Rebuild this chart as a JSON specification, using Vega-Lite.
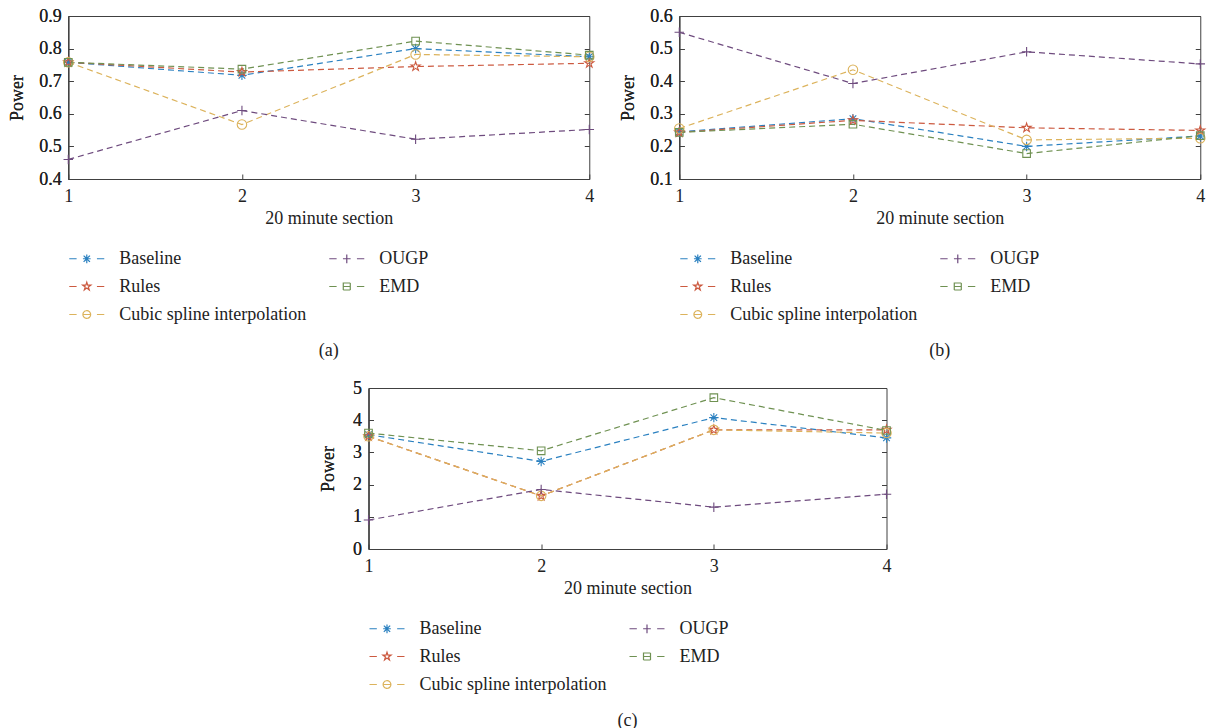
{
  "$schema": "https://vega.github.io/schema/vega-lite/v6.json",
  "padding": {"left": 8, "top": 6, "right": 2, "bottom": 2},
  "config": {
    "font": "Liberation Serif",
    "view": {"stroke": "#404040", "strokeWidth": 1},
    "axis": {
      "labelFont": "Liberation Serif", "labelFontSize": 18, "labelColor": "#222222",
      "titleFont": "Liberation Serif", "titleFontSize": 18, "titleFontWeight": "normal", "titleColor": "#222222",
      "domainColor": "#404040", "tickColor": "#404040", "grid": false, "tickSize": -5
    },
    "legend": {
      "labelFont": "Liberation Serif", "labelFontSize": 18, "labelColor": "#222222", "labelLimit": 400
    },
    "title": {"font": "Liberation Serif", "fontSize": 18, "fontWeight": "normal", "color": "#222222"}
  },
  "data": {"values": [
    {"p": "a", "s": 1, "m": "Baseline", "v": 0.758}, {"p": "a", "s": 2, "m": "Baseline", "v": 0.718}, {"p": "a", "s": 3, "m": "Baseline", "v": 0.800}, {"p": "a", "s": 4, "m": "Baseline", "v": 0.775},
    {"p": "a", "s": 1, "m": "Rules", "v": 0.758}, {"p": "a", "s": 2, "m": "Rules", "v": 0.728}, {"p": "a", "s": 3, "m": "Rules", "v": 0.745}, {"p": "a", "s": 4, "m": "Rules", "v": 0.755},
    {"p": "a", "s": 1, "m": "Cubic spline interpolation", "v": 0.758}, {"p": "a", "s": 2, "m": "Cubic spline interpolation", "v": 0.567}, {"p": "a", "s": 3, "m": "Cubic spline interpolation", "v": 0.782}, {"p": "a", "s": 4, "m": "Cubic spline interpolation", "v": 0.775},
    {"p": "a", "s": 1, "m": "OUGP", "v": 0.460}, {"p": "a", "s": 2, "m": "OUGP", "v": 0.610}, {"p": "a", "s": 3, "m": "OUGP", "v": 0.522}, {"p": "a", "s": 4, "m": "OUGP", "v": 0.552},
    {"p": "a", "s": 1, "m": "EMD", "v": 0.758}, {"p": "a", "s": 2, "m": "EMD", "v": 0.737}, {"p": "a", "s": 3, "m": "EMD", "v": 0.823}, {"p": "a", "s": 4, "m": "EMD", "v": 0.780},
    {"p": "b", "s": 1, "m": "Baseline", "v": 0.245}, {"p": "b", "s": 2, "m": "Baseline", "v": 0.285}, {"p": "b", "s": 3, "m": "Baseline", "v": 0.200}, {"p": "b", "s": 4, "m": "Baseline", "v": 0.232},
    {"p": "b", "s": 1, "m": "Rules", "v": 0.243}, {"p": "b", "s": 2, "m": "Rules", "v": 0.280}, {"p": "b", "s": 3, "m": "Rules", "v": 0.257}, {"p": "b", "s": 4, "m": "Rules", "v": 0.249},
    {"p": "b", "s": 1, "m": "Cubic spline interpolation", "v": 0.255}, {"p": "b", "s": 2, "m": "Cubic spline interpolation", "v": 0.435}, {"p": "b", "s": 3, "m": "Cubic spline interpolation", "v": 0.220}, {"p": "b", "s": 4, "m": "Cubic spline interpolation", "v": 0.225},
    {"p": "b", "s": 1, "m": "OUGP", "v": 0.550}, {"p": "b", "s": 2, "m": "OUGP", "v": 0.393}, {"p": "b", "s": 3, "m": "OUGP", "v": 0.490}, {"p": "b", "s": 4, "m": "OUGP", "v": 0.453},
    {"p": "b", "s": 1, "m": "EMD", "v": 0.243}, {"p": "b", "s": 2, "m": "EMD", "v": 0.268}, {"p": "b", "s": 3, "m": "EMD", "v": 0.178}, {"p": "b", "s": 4, "m": "EMD", "v": 0.233},
    {"p": "c", "s": 1, "m": "Baseline", "v": 3.55}, {"p": "c", "s": 2, "m": "Baseline", "v": 2.72}, {"p": "c", "s": 3, "m": "Baseline", "v": 4.08}, {"p": "c", "s": 4, "m": "Baseline", "v": 3.45},
    {"p": "c", "s": 1, "m": "Rules", "v": 3.50}, {"p": "c", "s": 2, "m": "Rules", "v": 1.65}, {"p": "c", "s": 3, "m": "Rules", "v": 3.70}, {"p": "c", "s": 4, "m": "Rules", "v": 3.70},
    {"p": "c", "s": 1, "m": "Cubic spline interpolation", "v": 3.50}, {"p": "c", "s": 2, "m": "Cubic spline interpolation", "v": 1.65}, {"p": "c", "s": 3, "m": "Cubic spline interpolation", "v": 3.70}, {"p": "c", "s": 4, "m": "Cubic spline interpolation", "v": 3.60},
    {"p": "c", "s": 1, "m": "OUGP", "v": 0.90}, {"p": "c", "s": 2, "m": "OUGP", "v": 1.85}, {"p": "c", "s": 3, "m": "OUGP", "v": 1.30}, {"p": "c", "s": 4, "m": "OUGP", "v": 1.70},
    {"p": "c", "s": 1, "m": "EMD", "v": 3.60}, {"p": "c", "s": 2, "m": "EMD", "v": 3.05}, {"p": "c", "s": 3, "m": "EMD", "v": 4.70}, {"p": "c", "s": 4, "m": "EMD", "v": 3.68}
  ]},
  "resolve": {"scale": {"y": "independent", "color": "independent", "shape": "independent"}, "legend": {"color": "independent", "shape": "independent"}},
  "spacing": 17,
  "center": true,
  "vconcat": [
    {
      "hconcat": [
        {
          "width": 521, "height": 163,
          "transform": [{"filter": "datum.p == 'a'"}],
          "title": {"text": "(a)", "orient": "bottom", "anchor": "middle", "offset": 18},
          "encoding": {
            "x": {"field": "s", "type": "quantitative", "scale": {"domain": [1, 4], "nice": false},
                  "axis": {"values": [1, 2, 3, 4], "format": "d", "title": "20 minute section", "labelPadding": 13, "titlePadding": 4, "labelFlush": false}},
            "y": {"field": "v", "type": "quantitative", "scale": {"domain": [0.4, 0.9], "nice": false, "zero": false},
                  "axis": {"orient": "left", "values": [0.4, 0.5, 0.6, 0.7, 0.8, 0.9], "format": ".1f", "title": "Power", "labelPadding": 12, "titlePadding": 12}}
          },
          "layer": [
            {"mark": {"type": "line", "strokeDash": [6, 4], "strokeWidth": 1.2},
             "encoding": {"color": {"field": "m", "type": "nominal",
               "scale": {"domain": ["Baseline", "Rules", "Cubic spline interpolation", "OUGP", "EMD"], "range": ["#2a80c0", "#cc5a40", "#dcb35c", "#6e4b7e", "#6f9152"]},
               "legend": {"orient": "none", "legendX": 0, "legendY": 224, "columns": 2, "title": null, "symbolSize": 1225, "symbolStrokeWidth": 1.2, "labelOffset": 14, "rowPadding": -11.5, "columnPadding": 20, "symbolOpacity": 1,
                 "encode": {"symbols": {"update": {"fill": {"value": "transparent"}, "strokeDash": {"value": [1, 0]}, "shape": {"signal": "datum.value == 'Baseline' ? 'M-1,0H-0.58M-0.22,0H0.22M0.58,0H1M0,-0.25V0.25M-0.18,-0.18L0.18,0.18M-0.18,0.18L0.18,-0.18' : datum.value == 'OUGP' ? 'M-1,0H-0.58M-0.22,0H0.22M0.58,0H1M0,-0.25V0.25' : datum.value == 'Rules' ? 'M-1,0H-0.58M0.58,0H1M0,-0.24L0.054,-0.074L0.228,-0.074L0.087,0.028L0.141,0.194L0,0.092L-0.141,0.194L-0.087,0.028L-0.228,-0.074L-0.054,-0.074Z' : datum.value == 'EMD' ? 'M-1,0H-0.58M-0.2,0H0.2M0.58,0H1M-0.2,-0.2H0.2V0.2H-0.2Z' : 'M-1,0H-0.58M-0.22,0H0.22M0.58,0H1M0.22,0A0.22,0.22 0 1 1 -0.22,0A0.22,0.22 0 1 1 0.22,0Z'"}}}}}}}},
            {"mark": {"type": "point", "filled": false, "size": 90, "strokeWidth": 1.1, "opacity": 1},
             "encoding": {
               "color": {"field": "m", "type": "nominal", "legend": null,
                 "scale": {"domain": ["Baseline", "Rules", "Cubic spline interpolation", "OUGP", "EMD"], "range": ["#2a80c0", "#cc5a40", "#dcb35c", "#6e4b7e", "#6f9152"]}},
               "shape": {"field": "m", "type": "nominal", "legend": null,
                 "scale": {"range": ["M0,-1V1M-1,0H1M-0.7,-0.7L0.7,0.7M-0.7,0.7L0.7,-0.7", "circle", "M-0.8,-0.8H0.8V0.8H-0.8Z", "M0,-1V1M-1,0H1", "M0,-1L0.225,-0.309L0.951,-0.309L0.363,0.118L0.588,0.809L0,0.382L-0.588,0.809L-0.363,0.118L-0.951,-0.309L-0.225,-0.309Z"]}}
             }},
            {"mark": {"type": "point", "opacity": 0},
             "encoding": {"y": {"field": "v", "type": "quantitative", "scale": {"domain": [0.4, 0.9], "nice": false, "zero": false},
               "axis": {"orient": "right", "values": [0.4, 0.5, 0.6, 0.7, 0.8, 0.9], "labels": false, "title": null, "domain": false}}}}
          ]
        },
        {
          "width": 521, "height": 163,
          "transform": [{"filter": "datum.p == 'b'"}],
          "title": {"text": "(b)", "orient": "bottom", "anchor": "middle", "offset": 18},
          "encoding": {
            "x": {"field": "s", "type": "quantitative", "scale": {"domain": [1, 4], "nice": false},
                  "axis": {"values": [1, 2, 3, 4], "format": "d", "title": "20 minute section", "labelPadding": 13, "titlePadding": 4, "labelFlush": false}},
            "y": {"field": "v", "type": "quantitative", "scale": {"domain": [0.1, 0.6], "nice": false, "zero": false},
                  "axis": {"orient": "left", "values": [0.1, 0.2, 0.3, 0.4, 0.5, 0.6], "format": ".1f", "title": "Power", "labelPadding": 12, "titlePadding": 12}}
          },
          "layer": [
            {"mark": {"type": "line", "strokeDash": [6, 4], "strokeWidth": 1.2},
             "encoding": {"color": {"field": "m", "type": "nominal",
               "scale": {"domain": ["Baseline", "Rules", "Cubic spline interpolation", "OUGP", "EMD"], "range": ["#2a80c0", "#cc5a40", "#dcb35c", "#6e4b7e", "#6f9152"]},
               "legend": {"orient": "none", "legendX": 0, "legendY": 224, "columns": 2, "title": null, "symbolSize": 1225, "symbolStrokeWidth": 1.2, "labelOffset": 14, "rowPadding": -11.5, "columnPadding": 20, "symbolOpacity": 1,
                 "encode": {"symbols": {"update": {"fill": {"value": "transparent"}, "strokeDash": {"value": [1, 0]}, "shape": {"signal": "datum.value == 'Baseline' ? 'M-1,0H-0.58M-0.22,0H0.22M0.58,0H1M0,-0.25V0.25M-0.18,-0.18L0.18,0.18M-0.18,0.18L0.18,-0.18' : datum.value == 'OUGP' ? 'M-1,0H-0.58M-0.22,0H0.22M0.58,0H1M0,-0.25V0.25' : datum.value == 'Rules' ? 'M-1,0H-0.58M0.58,0H1M0,-0.24L0.054,-0.074L0.228,-0.074L0.087,0.028L0.141,0.194L0,0.092L-0.141,0.194L-0.087,0.028L-0.228,-0.074L-0.054,-0.074Z' : datum.value == 'EMD' ? 'M-1,0H-0.58M-0.2,0H0.2M0.58,0H1M-0.2,-0.2H0.2V0.2H-0.2Z' : 'M-1,0H-0.58M-0.22,0H0.22M0.58,0H1M0.22,0A0.22,0.22 0 1 1 -0.22,0A0.22,0.22 0 1 1 0.22,0Z'"}}}}}}}},
            {"mark": {"type": "point", "filled": false, "size": 90, "strokeWidth": 1.1, "opacity": 1},
             "encoding": {
               "color": {"field": "m", "type": "nominal", "legend": null,
                 "scale": {"domain": ["Baseline", "Rules", "Cubic spline interpolation", "OUGP", "EMD"], "range": ["#2a80c0", "#cc5a40", "#dcb35c", "#6e4b7e", "#6f9152"]}},
               "shape": {"field": "m", "type": "nominal", "legend": null,
                 "scale": {"range": ["M0,-1V1M-1,0H1M-0.7,-0.7L0.7,0.7M-0.7,0.7L0.7,-0.7", "circle", "M-0.8,-0.8H0.8V0.8H-0.8Z", "M0,-1V1M-1,0H1", "M0,-1L0.225,-0.309L0.951,-0.309L0.363,0.118L0.588,0.809L0,0.382L-0.588,0.809L-0.363,0.118L-0.951,-0.309L-0.225,-0.309Z"]}}
             }},
            {"mark": {"type": "point", "opacity": 0},
             "encoding": {"y": {"field": "v", "type": "quantitative", "scale": {"domain": [0.1, 0.6], "nice": false, "zero": false},
               "axis": {"orient": "right", "values": [0.1, 0.2, 0.3, 0.4, 0.5, 0.6], "labels": false, "title": null, "domain": false}}}}
          ]
        }
      ],
      "spacing": 22,
      "resolve": {"scale": {"y": "independent", "color": "independent", "shape": "independent"}, "legend": {"color": "independent", "shape": "independent"}}
    },
    {
      "width": 518, "height": 161,
      "transform": [{"filter": "datum.p == 'c'"}],
      "title": {"text": "(c)", "orient": "bottom", "anchor": "middle", "offset": 18},
      "encoding": {
        "x": {"field": "s", "type": "quantitative", "scale": {"domain": [1, 4], "nice": false},
              "axis": {"values": [1, 2, 3, 4], "format": "d", "title": "20 minute section", "labelPadding": 13, "titlePadding": 4, "labelFlush": false}},
        "y": {"field": "v", "type": "quantitative", "scale": {"domain": [0, 5], "nice": false, "zero": false},
              "axis": {"orient": "left", "values": [0, 1, 2, 3, 4, 5], "format": "d", "title": "Power", "labelPadding": 12, "titlePadding": 15}}
      },
      "layer": [
        {"mark": {"type": "line", "strokeDash": [6, 4], "strokeWidth": 1.2},
         "encoding": {"color": {"field": "m", "type": "nominal",
           "scale": {"domain": ["Baseline", "Rules", "Cubic spline interpolation", "OUGP", "EMD"], "range": ["#2a80c0", "#cc5a40", "#dcb35c", "#6e4b7e", "#6f9152"]},
           "legend": {"orient": "none", "legendX": 0, "legendY": 222, "columns": 2, "title": null, "symbolSize": 1225, "symbolStrokeWidth": 1.2, "labelOffset": 14, "rowPadding": -11.5, "columnPadding": 20, "symbolOpacity": 1,
             "encode": {"symbols": {"update": {"fill": {"value": "transparent"}, "strokeDash": {"value": [1, 0]}, "shape": {"signal": "datum.value == 'Baseline' ? 'M-1,0H-0.58M-0.22,0H0.22M0.58,0H1M0,-0.25V0.25M-0.18,-0.18L0.18,0.18M-0.18,0.18L0.18,-0.18' : datum.value == 'OUGP' ? 'M-1,0H-0.58M-0.22,0H0.22M0.58,0H1M0,-0.25V0.25' : datum.value == 'Rules' ? 'M-1,0H-0.58M0.58,0H1M0,-0.24L0.054,-0.074L0.228,-0.074L0.087,0.028L0.141,0.194L0,0.092L-0.141,0.194L-0.087,0.028L-0.228,-0.074L-0.054,-0.074Z' : datum.value == 'EMD' ? 'M-1,0H-0.58M-0.2,0H0.2M0.58,0H1M-0.2,-0.2H0.2V0.2H-0.2Z' : 'M-1,0H-0.58M-0.22,0H0.22M0.58,0H1M0.22,0A0.22,0.22 0 1 1 -0.22,0A0.22,0.22 0 1 1 0.22,0Z'"}}}}}}}},
        {"mark": {"type": "point", "filled": false, "size": 90, "strokeWidth": 1.1, "opacity": 1},
         "encoding": {
           "color": {"field": "m", "type": "nominal", "legend": null,
             "scale": {"domain": ["Baseline", "Rules", "Cubic spline interpolation", "OUGP", "EMD"], "range": ["#2a80c0", "#cc5a40", "#dcb35c", "#6e4b7e", "#6f9152"]}},
           "shape": {"field": "m", "type": "nominal", "legend": null,
             "scale": {"range": ["M0,-1V1M-1,0H1M-0.7,-0.7L0.7,0.7M-0.7,0.7L0.7,-0.7", "circle", "M-0.8,-0.8H0.8V0.8H-0.8Z", "M0,-1V1M-1,0H1", "M0,-1L0.225,-0.309L0.951,-0.309L0.363,0.118L0.588,0.809L0,0.382L-0.588,0.809L-0.363,0.118L-0.951,-0.309L-0.225,-0.309Z"]}}
         }},
        {"mark": {"type": "point", "opacity": 0},
         "encoding": {"y": {"field": "v", "type": "quantitative", "scale": {"domain": [0, 5], "nice": false, "zero": false},
           "axis": {"orient": "right", "values": [0, 1, 2, 3, 4, 5], "labels": false, "title": "Power", "titleColor": "transparent", "titleFontSize": 12, "titlePadding": 7, "domain": false}}}}
      ]
    }
  ]
}
